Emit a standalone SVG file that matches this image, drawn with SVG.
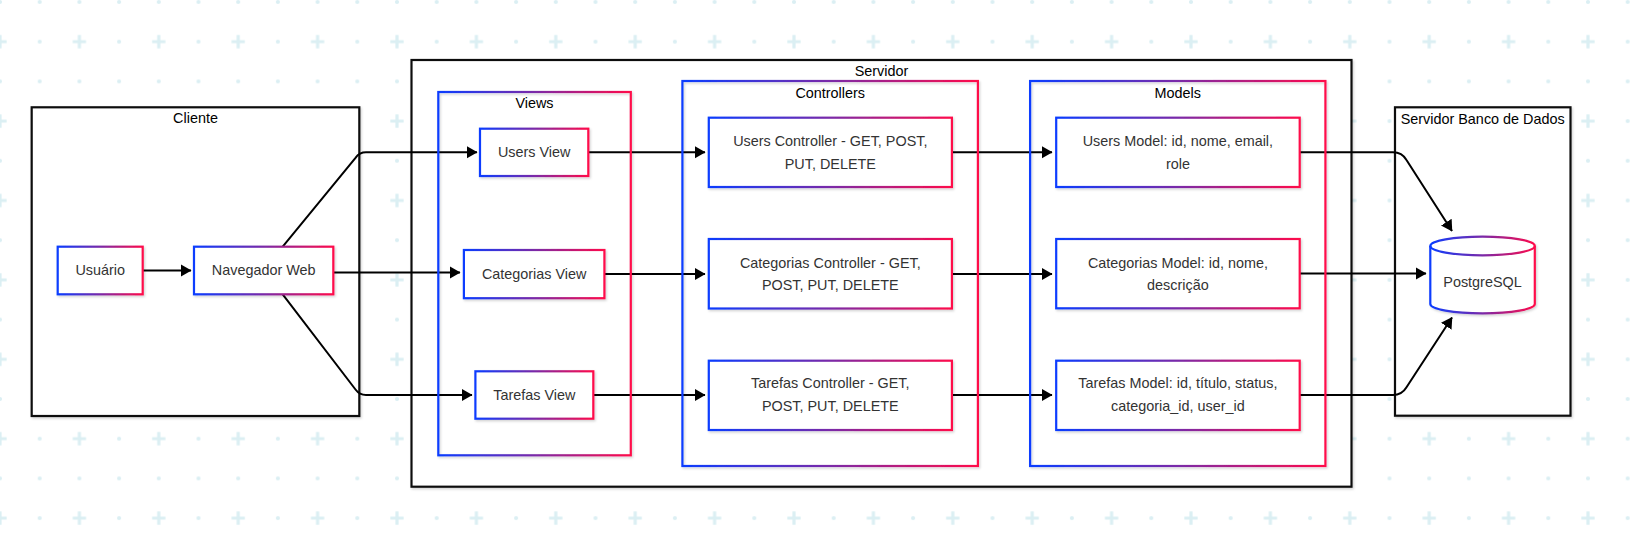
<svg xmlns="http://www.w3.org/2000/svg" width="1630" height="537" viewBox="0 0 1630 537">
<style>
text{font-family:"Liberation Sans",Arial,sans-serif;font-size:14.4px;text-anchor:middle}
.lbl{fill:#333}
.ttl{fill:#000}
.cont{fill:#fff;stroke:#111;stroke-width:2.2;filter:url(#sh)}
.grad{fill:#fff;stroke:url(#g);stroke-width:2.2;filter:url(#sh)}
.inner{fill:none;stroke:url(#g);stroke-width:2.2;filter:url(#sh)}
.edge{fill:none;stroke:#000;stroke-width:2;marker-end:url(#ah)}
.bgc{stroke:#dbeff3;stroke-width:3.2}
</style>
<defs>
<linearGradient id="g" x1="0" y1="0" x2="1" y2="0">
<stop offset="0" stop-color="#0a3cff"/>
<stop offset="0.5" stop-color="#7a2aa8"/>
<stop offset="1" stop-color="#ff0a4a"/>
</linearGradient>
<filter id="sh" x="-5%" y="-5%" width="115%" height="115%">
<feDropShadow dx="1.2" dy="1.5" stdDeviation="1" flood-color="#000" flood-opacity="0.18"/>
</filter>
<marker id="ah" viewBox="0 0 11 12.6" refX="10.5" refY="6.3" markerWidth="11" markerHeight="12.6" markerUnits="userSpaceOnUse" orient="auto">
<path d="M0,0 L11,6.3 L0,12.6 Z" fill="#000"/>
</marker>
<pattern id="bg" x="-19.85" y="-17.85" width="79.4" height="79.4" patternUnits="userSpaceOnUse">
<circle cx="19.85" cy="19.85" r="2.1" fill="#dbeff3"/>
<circle cx="59.55" cy="19.85" r="2.1" fill="#dbeff3"/>
<circle cx="59.55" cy="59.55" r="2.1" fill="#dbeff3"/>
<path class="bgc" d="M13.2,59.55 H26.5 M19.85,52.9 V66.2"/>
</pattern>
</defs>
<rect width="1630" height="537" fill="#fff"/>
<rect width="1630" height="537" fill="url(#bg)"/>

<g id="cliente">
<rect class="cont" x="31.7" y="107.3" width="327.6" height="308.7"/>
<text class="ttl" x="195.5" y="122.7">Cliente</text>
</g>
<g id="servidor">
<rect class="cont" x="411.5" y="60" width="940" height="426.7"/>
<text class="ttl" x="881.5" y="76.3">Servidor</text>
</g>
<g id="servidor-bd">
<rect class="cont" x="1395" y="107.3" width="175.5" height="308.4"/>
<text class="ttl" x="1482.7" y="123.5">Servidor Banco de Dados</text>
</g>

<g id="connectors">
<path class="edge" d="M142.7,270.5 H191"/>
<path class="edge" d="M282.7,246.7 L355.5,157.8 Q359.5,152.3 366,152.3 H477"/>
<path class="edge" d="M333.3,272.6 H460"/>
<path class="edge" d="M282.7,294.3 L355.5,389.5 Q359.5,395 366,395 H472"/>
<path class="edge" d="M588.3,152.3 H705"/>
<path class="edge" d="M604.4,274 H705"/>
<path class="edge" d="M593.3,395 H705"/>
<path class="edge" d="M951.9,152.3 H1052"/>
<path class="edge" d="M951.9,274 H1052"/>
<path class="edge" d="M951.9,395 H1052"/>
<path class="edge" d="M1299.7,152.3 H1393 Q1402,152.3 1406.5,160 L1452,231"/>
<path class="edge" d="M1299.7,273.5 H1426"/>
<path class="edge" d="M1299.7,395 H1393 Q1402,395 1406.5,387.3 L1452,317.5"/>
</g>

<g id="views">
<rect class="inner" x="438.3" y="92" width="192.5" height="363.3"/>
<text class="ttl" x="534.5" y="108">Views</text>
</g>
<g id="controllers">
<rect class="inner" x="682.4" y="81" width="295.5" height="385"/>
<text class="ttl" x="830.2" y="97.5">Controllers</text>
</g>
<g id="models">
<rect class="inner" x="1030.1" y="81" width="295.3" height="385"/>
<text class="ttl" x="1177.8" y="97.5">Models</text>
</g>

<g id="usuario">
<rect class="grad" x="57.7" y="246.7" width="85" height="47.6"/>
<text class="lbl" x="100.2" y="275.4">Usuário</text>
</g>
<g id="navegador">
<rect class="grad" x="194" y="246.7" width="139.3" height="47.6"/>
<text class="lbl" x="263.7" y="275.4">Navegador Web</text>
</g>
<g id="users-view">
<rect class="grad" x="480" y="128.7" width="108.3" height="47.3"/>
<text class="lbl" x="534.2" y="157">Users View</text>
</g>
<g id="categorias-view">
<rect class="grad" x="463.9" y="250" width="140.5" height="48.2"/>
<text class="lbl" x="534.2" y="279">Categorias View</text>
</g>
<g id="tarefas-view">
<rect class="grad" x="475.4" y="371.3" width="117.9" height="47.4"/>
<text class="lbl" x="534.3" y="399.7">Tarefas View</text>
</g>
<g id="users-controller">
<rect class="grad" x="708.8" y="117.7" width="243.1" height="69.3"/>
<text class="lbl" x="830.3" y="146.1">Users Controller - GET, POST,</text>
<text class="lbl" x="830.3" y="168.8">PUT, DELETE</text>
</g>
<g id="categorias-controller">
<rect class="grad" x="708.8" y="239" width="243.1" height="69.5"/>
<text class="lbl" x="830.3" y="267.7">Categorias Controller - GET,</text>
<text class="lbl" x="830.3" y="290">POST, PUT, DELETE</text>
</g>
<g id="tarefas-controller">
<rect class="grad" x="708.8" y="360.7" width="243.1" height="69.3"/>
<text class="lbl" x="830.3" y="388.4">Tarefas Controller - GET,</text>
<text class="lbl" x="830.3" y="411.1">POST, PUT, DELETE</text>
</g>
<g id="users-model">
<rect class="grad" x="1056.2" y="117.7" width="243.5" height="69.3"/>
<text class="lbl" x="1177.9" y="146.1">Users Model: id, nome, email,</text>
<text class="lbl" x="1177.9" y="168.8">role</text>
</g>
<g id="categorias-model">
<rect class="grad" x="1056.2" y="239" width="243.5" height="69.3"/>
<text class="lbl" x="1177.9" y="267.7">Categorias Model: id, nome,</text>
<text class="lbl" x="1177.9" y="290">descrição</text>
</g>
<g id="tarefas-model">
<rect class="grad" x="1056.2" y="360.7" width="243.5" height="69.3"/>
<text class="lbl" x="1177.9" y="388.4">Tarefas Model: id, título, status,</text>
<text class="lbl" x="1177.9" y="411.1">categoria_id, user_id</text>
</g>
<g id="postgresql">
<path d="M1430.3,246 A52.25,9.3 0 0 1 1534.8,246 V304 A52.25,9.3 0 0 1 1430.3,304 Z" fill="#fff" stroke="url(#g)" stroke-width="2.2" filter="url(#sh)"/>
<path d="M1430.3,246 A52.25,9.3 0 0 0 1534.8,246" fill="none" stroke="url(#g)" stroke-width="2.2"/>
<text class="lbl" x="1482.5" y="286.5">PostgreSQL</text>
</g>
</svg>
